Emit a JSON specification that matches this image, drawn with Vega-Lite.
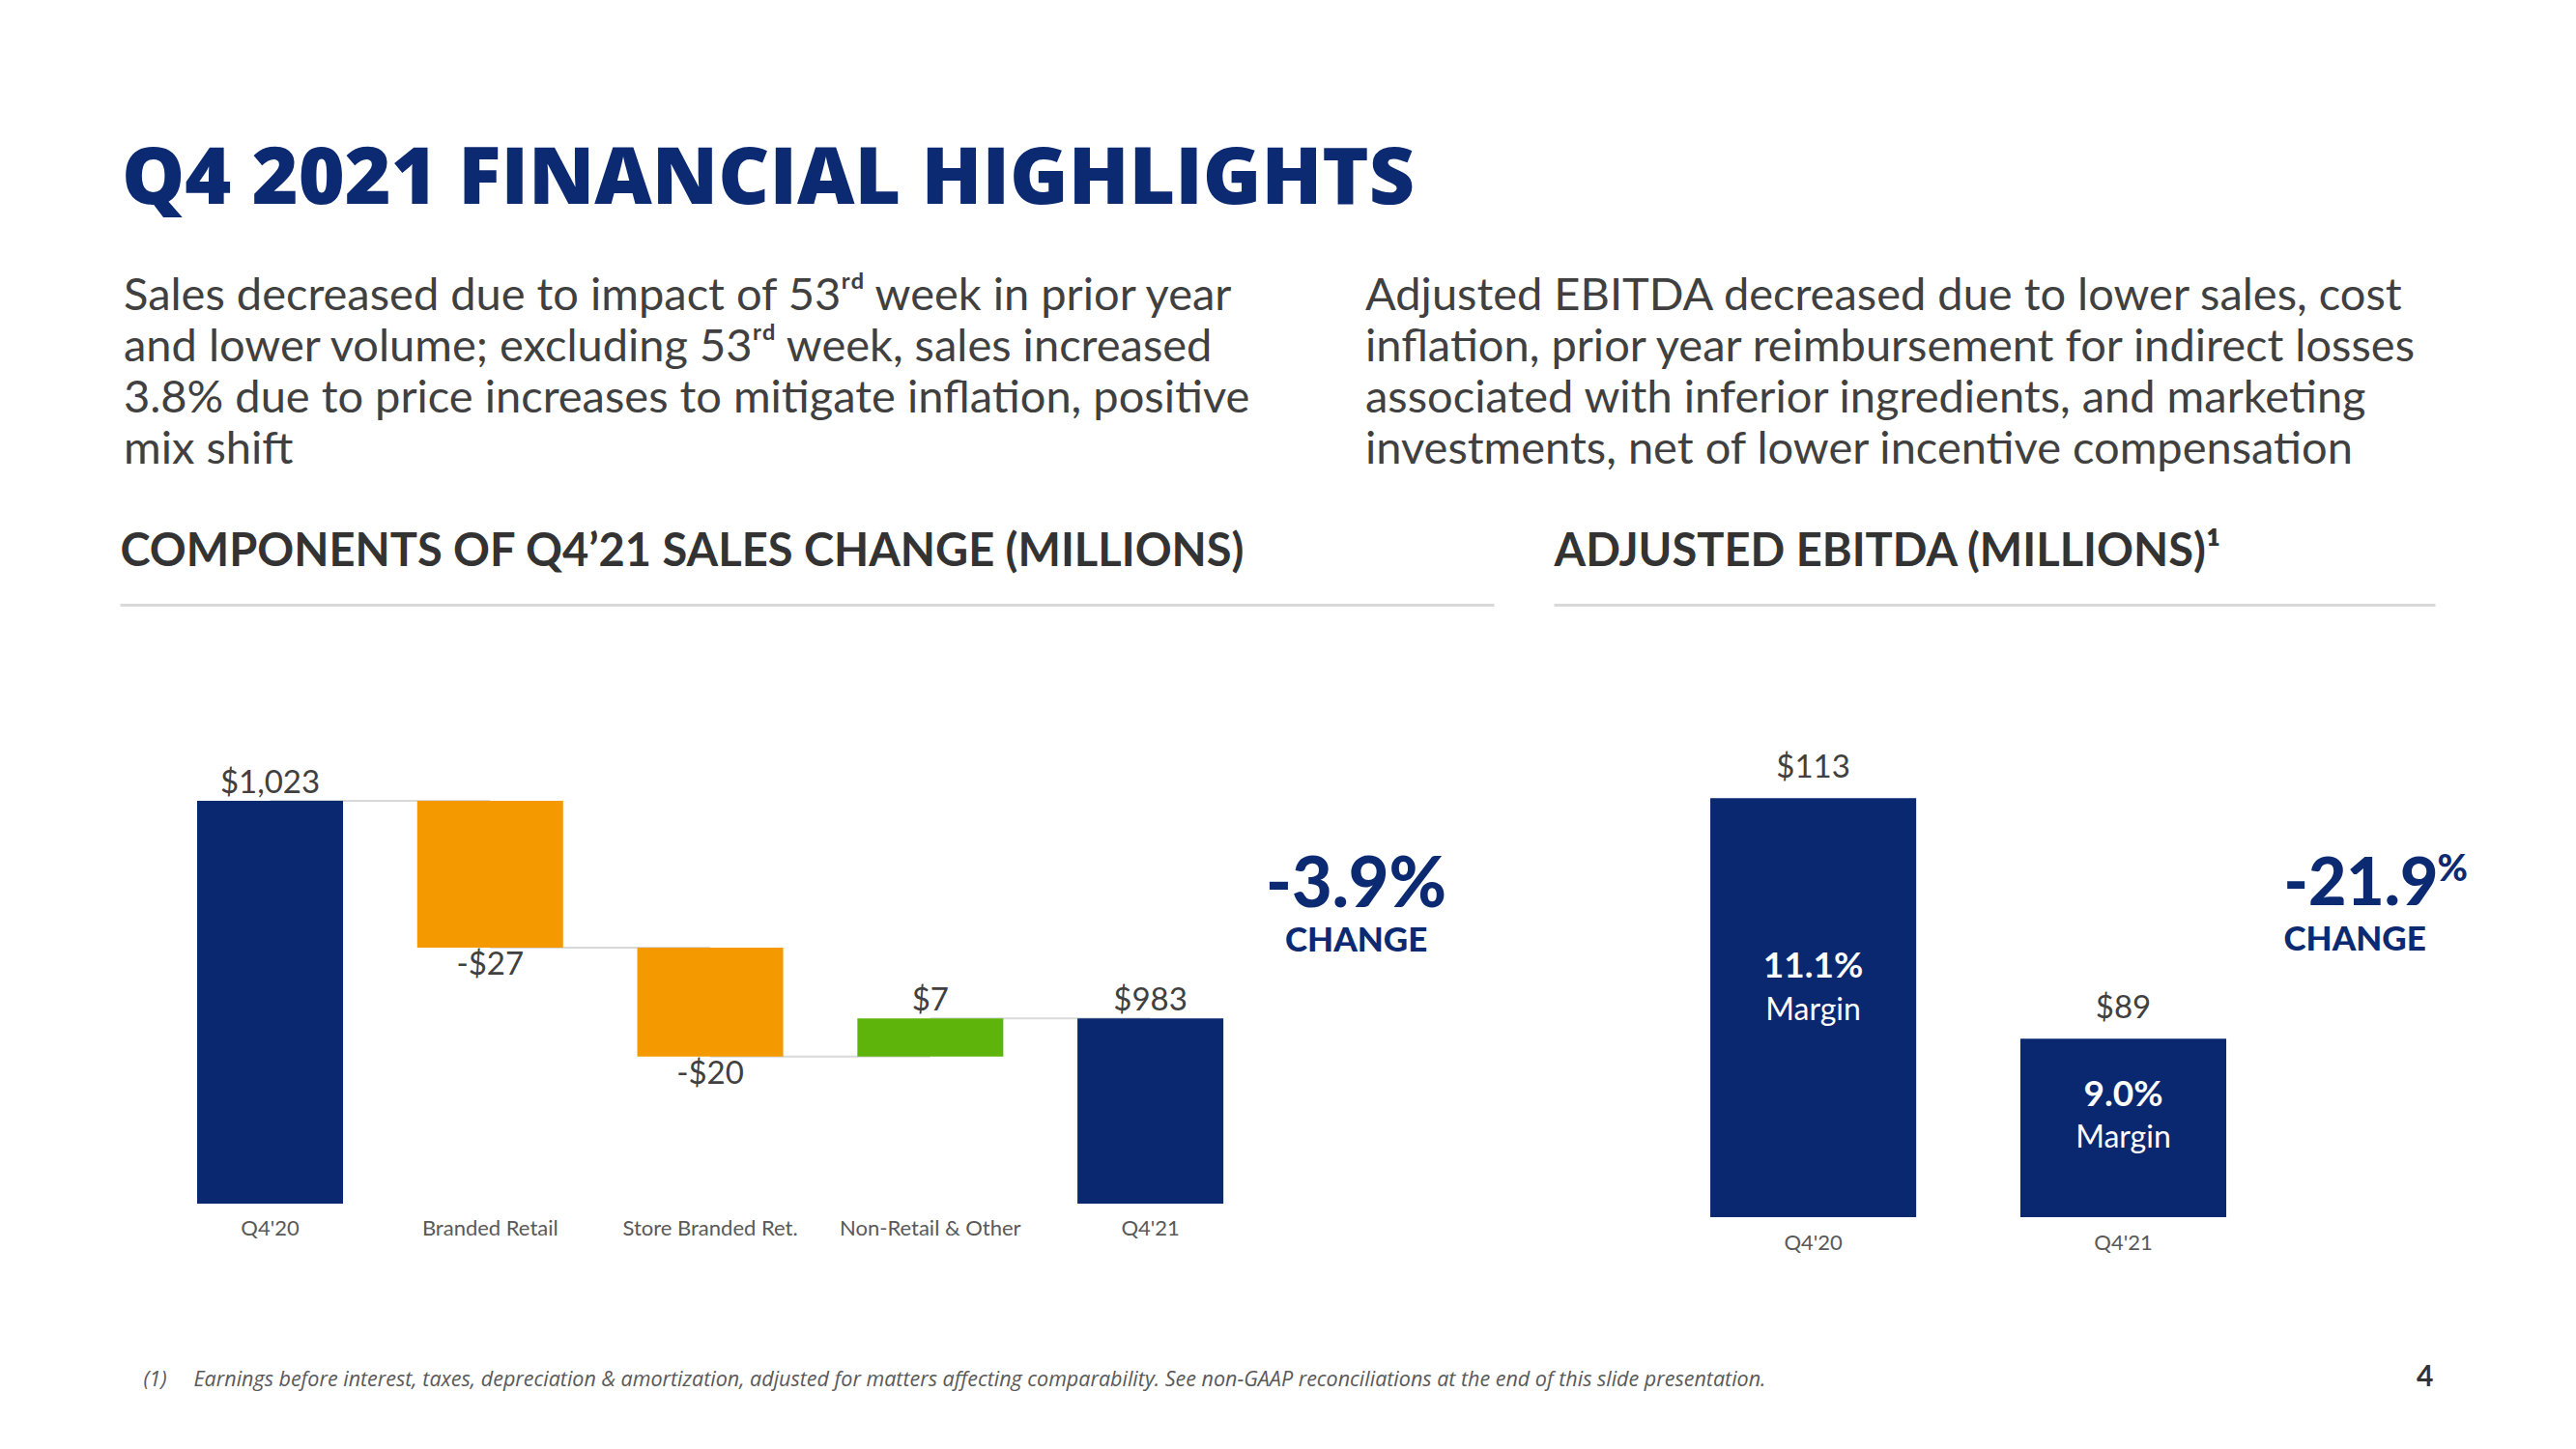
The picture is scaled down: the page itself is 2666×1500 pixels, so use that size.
{
  "$schema": "https://vega.github.io/schema/vega-lite/v6.json",
  "background": "white",
  "autosize": {"type": "pad"},
  "padding": {"left": 124, "top": 145, "right": 10, "bottom": 10},
  "config": {"view": {"stroke": null}, "font": "Lato"},
  "title": {
    "text": "Q4 2021 FINANCIAL HIGHLIGHTS",
    "anchor": "start", "dx": 2, "offset": 55,
    "font": "Open Sans", "fontSize": 82, "fontWeight": 800, "color": "#0c2a72"
  },
  "datasets": {
    "sales": [
      {"category": "Q4'20", "kind": "total", "start": 0, "end": 1023, "label": "$1,023"},
      {"category": "Branded Retail", "kind": "decrease", "start": 1023, "end": 996, "label": "-$27"},
      {"category": "Store Branded Ret.", "kind": "decrease", "start": 996, "end": 976, "label": "-$20"},
      {"category": "Non-Retail & Other", "kind": "increase", "start": 976, "end": 983, "label": "$7"},
      {"category": "Q4'21", "kind": "total", "start": 0, "end": 983, "label": "$983"}
    ],
    "connectors": [
      {"from": "Q4'20", "to": "Branded Retail", "level": 1023},
      {"from": "Branded Retail", "to": "Store Branded Ret.", "level": 996},
      {"from": "Store Branded Ret.", "to": "Non-Retail & Other", "level": 976},
      {"from": "Non-Retail & Other", "to": "Q4'21", "level": 983}
    ],
    "salesChange": [
      {"category": "Q4'21", "total": 983, "change": "-3.9%", "word": "CHANGE"}
    ],
    "ebitda": [
      {"period": "Q4'20", "ebitda": 113, "label": "$113", "margin": "11.1%", "word": "Margin"},
      {"period": "Q4'21", "ebitda": 89, "label": "$89", "margin": "9.0%", "word": "Margin"}
    ],
    "ebitdaChange": [
      {"period": "Q4'21", "ebitda": 89, "change": "-21.9", "pct": "%", "word": "CHANGE"}
    ]
  },
  "bounds": "flush",
  "spacing": 62,
  "hconcat": [
    {
      "width": 1422,
      "height": 620,
      "title": {
        "text": [
          "Sales decreased due to impact of 53ʳᵈ week in prior year",
          "and lower volume; excluding 53ʳᵈ week, sales increased",
          "3.8% due to price increases to mitigate inflation, positive",
          "mix shift"
        ],
        "anchor": "start", "dx": 4, "offset": 57, "lineHeight": 53,
        "font": "Lato", "fontSize": 47, "fontWeight": 400, "color": "#404040"
      },
      "resolve": {"axis": {"x": "independent"}},
      "layer": [
        {
          "data": {"name": "connectors"},
          "mark": {"type": "rule", "color": "#d9d9d9", "strokeWidth": 2},
          "encoding": {
            "x": {"field": "from", "type": "nominal", "sort": null,
              "scale": {"domain": ["Q4'20", "Branded Retail", "Store Branded Ret.", "Non-Retail & Other", "Q4'21"], "paddingInner": 0.337, "paddingOuter": 0.79, "align": 0.2223},
              "axis": null},
            "x2": {"field": "to"},
            "y": {"field": "level", "type": "quantitative", "scale": {"domain": [949, 1059], "zero": false, "nice": false}, "axis": null}
          }
        },
        {
          "data": {"name": "sales"},
          "mark": {"type": "bar", "clip": true},
          "encoding": {
            "x": {"field": "category", "type": "nominal", "sort": null,
              "scale": {"domain": ["Q4'20", "Branded Retail", "Store Branded Ret.", "Non-Retail & Other", "Q4'21"], "paddingInner": 0.337, "paddingOuter": 0.79, "align": 0.2223},
              "axis": {
                "orient": "bottom", "domain": false, "ticks": false, "grid": false,
                "labelAngle": 0, "labelFont": "Lato", "labelFontSize": 22, "labelColor": "#595959", "labelPadding": 15, "labelLimit": 0,
                "title": "(1)\u00a0\u00a0\u00a0\u00a0\u00a0Earnings before interest, taxes, depreciation & amortization, adjusted for matters affecting  comparability. See non-GAAP reconciliations at the end of this slide presentation.",
                "titleX": 24, "titleY": 182, "titleAlign": "left", "titleBaseline": "middle",
                "titleFont": "Open Sans", "titleFontStyle": "italic", "titleFontWeight": 400, "titleFontSize": 21.5, "titleColor": "#595959"
              }},
            "y": {"field": "end", "type": "quantitative", "scale": {"domain": [949, 1059], "zero": false, "nice": false}, "axis": null},
            "y2": {"field": "start"},
            "color": {"field": "kind", "type": "nominal", "legend": null,
              "scale": {"domain": ["total", "decrease", "increase"], "range": ["#0a2870", "#f49a00", "#5fb40c"]}}
          }
        },
        {
          "data": {"name": "sales"},
          "transform": [{"filter": {"field": "kind", "oneOf": ["total", "increase"]}}],
          "mark": {"type": "text", "baseline": "middle", "dy": -18, "font": "Lato", "fontSize": 33, "color": "#404040"},
          "encoding": {
            "x": {"field": "category", "type": "nominal", "sort": null, "axis": null},
            "y": {"field": "end", "type": "quantitative", "axis": null},
            "text": {"field": "label"}
          }
        },
        {
          "data": {"name": "sales"},
          "transform": [{"filter": {"field": "kind", "equal": "decrease"}}],
          "mark": {"type": "text", "baseline": "middle", "dy": 18, "font": "Lato", "fontSize": 33, "color": "#404040"},
          "encoding": {
            "x": {"field": "category", "type": "nominal", "sort": null, "axis": null},
            "y": {"field": "end", "type": "quantitative", "axis": null},
            "text": {"field": "label"}
          }
        },
        {
          "data": {"name": "salesChange"},
          "mark": {"type": "text", "align": "center", "baseline": "middle", "dx": 213, "dy": -137, "font": "Lato", "fontSize": 72, "fontWeight": 900, "color": "#0c2a72"},
          "encoding": {
            "x": {"field": "category", "type": "nominal", "sort": null,
              "axis": {
                "orient": "top", "labels": false, "ticks": false, "grid": false,
                "domain": true, "domainColor": "#d9d9d9", "domainWidth": 3,
                "title": "COMPONENTS OF Q4’21 SALES CHANGE (MILLIONS)",
                "titleAnchor": "start", "titleAlign": "left", "titleBaseline": "alphabetic", "titlePadding": 41,
                "titleFont": "Lato", "titleFontSize": 47, "titleFontWeight": 700, "titleColor": "#333333"
              }},
            "y": {"field": "total", "type": "quantitative", "axis": null},
            "text": {"field": "change"}
          }
        },
        {
          "data": {"name": "salesChange"},
          "mark": {"type": "text", "align": "center", "baseline": "middle", "dx": 213, "dy": -80, "font": "Lato", "fontSize": 35, "fontWeight": 900, "color": "#0c2a72"},
          "encoding": {
            "x": {"field": "category", "type": "nominal", "sort": null, "axis": null},
            "y": {"field": "total", "type": "quantitative", "axis": null},
            "text": {"field": "word"}
          }
        }
      ]
    },
    {
      "width": 912,
      "height": 634,
      "title": {
        "text": [
          "Adjusted EBITDA decreased due to lower sales, cost",
          "inflation, prior year reimbursement for indirect losses",
          "associated with inferior ingredients, and marketing",
          "investments, net of lower incentive compensation"
        ],
        "anchor": "start", "dx": -195, "offset": 57, "lineHeight": 53,
        "font": "Lato", "fontSize": 47, "fontWeight": 400, "color": "#404040"
      },
      "resolve": {"axis": {"x": "independent"}},
      "layer": [
        {
          "data": {"name": "ebitda"},
          "mark": {"type": "bar", "clip": true, "color": "#0a2870"},
          "encoding": {
            "x": {"field": "period", "type": "nominal", "sort": null,
              "scale": {"domain": ["Q4'20", "Q4'21"], "paddingInner": 0.336, "paddingOuter": 0.589, "align": 0.4287},
              "axis": {
                "orient": "bottom", "domain": false, "ticks": false, "grid": false,
                "labelAngle": 0, "labelFont": "Lato", "labelFontSize": 22, "labelColor": "#595959", "labelPadding": 16,
                "title": "4", "titleX": 910, "titleY": 165, "titleAlign": "right", "titleBaseline": "middle",
                "titleFont": "Lato", "titleFontSize": 30, "titleFontWeight": 700, "titleColor": "#333333"
              }},
            "y": {"field": "ebitda", "type": "quantitative", "scale": {"domain": [71.2, 132.3], "zero": false, "nice": false}, "axis": null},
            "y2": {"datum": 0}
          }
        },
        {
          "data": {"name": "ebitda"},
          "mark": {"type": "text", "baseline": "middle", "dy": -31, "font": "Lato", "fontSize": 33, "color": "#404040"},
          "encoding": {
            "x": {"field": "period", "type": "nominal", "sort": null, "axis": null},
            "y": {"field": "ebitda", "type": "quantitative", "axis": null},
            "text": {"field": "label"}
          }
        },
        {
          "data": {"name": "ebitda"},
          "transform": [{"filter": {"field": "period", "equal": "Q4'20"}}],
          "mark": {"type": "text", "baseline": "middle", "dy": 175, "font": "Lato", "fontSize": 37, "fontWeight": 700, "color": "white"},
          "encoding": {
            "x": {"field": "period", "type": "nominal", "sort": null, "axis": null},
            "y": {"field": "ebitda", "type": "quantitative", "axis": null},
            "text": {"field": "margin"}
          }
        },
        {
          "data": {"name": "ebitda"},
          "transform": [{"filter": {"field": "period", "equal": "Q4'20"}}],
          "mark": {"type": "text", "baseline": "middle", "dy": 220, "font": "Lato", "fontSize": 32, "color": "white"},
          "encoding": {
            "x": {"field": "period", "type": "nominal", "sort": null, "axis": null},
            "y": {"field": "ebitda", "type": "quantitative", "axis": null},
            "text": {"field": "word"}
          }
        },
        {
          "data": {"name": "ebitda"},
          "transform": [{"filter": {"field": "period", "equal": "Q4'21"}}],
          "mark": {"type": "text", "baseline": "middle", "dy": 59, "font": "Lato", "fontSize": 37, "fontWeight": 700, "color": "white"},
          "encoding": {
            "x": {"field": "period", "type": "nominal", "sort": null, "axis": null},
            "y": {"field": "ebitda", "type": "quantitative", "axis": null},
            "text": {"field": "margin"}
          }
        },
        {
          "data": {"name": "ebitda"},
          "transform": [{"filter": {"field": "period", "equal": "Q4'21"}}],
          "mark": {"type": "text", "baseline": "middle", "dy": 103, "font": "Lato", "fontSize": 32, "color": "white"},
          "encoding": {
            "x": {"field": "period", "type": "nominal", "sort": null, "axis": null},
            "y": {"field": "ebitda", "type": "quantitative", "axis": null},
            "text": {"field": "word"}
          }
        },
        {
          "data": {"name": "ebitdaChange"},
          "mark": {"type": "text", "align": "left", "baseline": "middle", "dx": 166, "dy": -158, "font": "Lato", "fontSize": 68, "fontWeight": 900, "color": "#0c2a72"},
          "encoding": {
            "x": {"field": "period", "type": "nominal", "sort": null,
              "axis": {
                "orient": "top", "labels": false, "ticks": false, "grid": false,
                "domain": true, "domainColor": "#d9d9d9", "domainWidth": 3,
                "title": "ADJUSTED EBITDA (MILLIONS)¹",
                "titleAnchor": "start", "titleAlign": "left", "titleBaseline": "alphabetic", "titlePadding": 41,
                "titleFont": "Lato", "titleFontSize": 47, "titleFontWeight": 700, "titleColor": "#333333"
              }},
            "y": {"field": "ebitda", "type": "quantitative", "axis": null},
            "text": {"field": "change"}
          }
        },
        {
          "data": {"name": "ebitdaChange"},
          "mark": {"type": "text", "align": "left", "baseline": "middle", "dx": 325, "dy": -174, "font": "Lato", "fontSize": 38, "fontWeight": 900, "color": "#0c2a72"},
          "encoding": {
            "x": {"field": "period", "type": "nominal", "sort": null, "axis": null},
            "y": {"field": "ebitda", "type": "quantitative", "axis": null},
            "text": {"field": "pct"}
          }
        },
        {
          "data": {"name": "ebitdaChange"},
          "mark": {"type": "text", "align": "left", "baseline": "middle", "dx": 166, "dy": -102, "font": "Lato", "fontSize": 35, "fontWeight": 900, "color": "#0c2a72"},
          "encoding": {
            "x": {"field": "period", "type": "nominal", "sort": null, "axis": null},
            "y": {"field": "ebitda", "type": "quantitative", "axis": null},
            "text": {"field": "word"}
          }
        }
      ]
    }
  ]
}
